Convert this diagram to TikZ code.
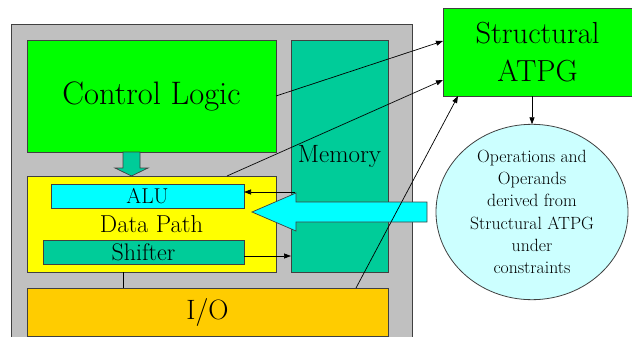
\documentclass[tikz,border=0pt]{standalone}
\usetikzlibrary{calc,arrows.meta,shapes.geometric}
\definecolor{chipgray}{HTML}{C0C0C0}
\definecolor{brightgreen}{HTML}{00FF00}
\definecolor{memteal}{HTML}{00CC99}
\definecolor{dpyellow}{HTML}{FFFF00}
\definecolor{alucyan}{HTML}{00FFFF}
\definecolor{iogold}{HTML}{FFCC00}
\definecolor{palecyan}{HTML}{CCFFFF}
\tikzset{
  block/.style={draw=black!75, line width=0.8pt, inner sep=0pt, outer sep=0pt},
  link/.style={draw=black, line width=0.7pt, -{Triangle[length=7pt,width=5pt]}},
  plainlink/.style={draw=black, line width=0.7pt},
}
\begin{document}
\begin{tikzpicture}[x=1pt,y=-1pt]
\useasboundingbox (0,0) rectangle (632,337);
% chip outline
\fill[chipgray] (11,24) rectangle (412,340);
\draw[black!75, line width=0.8pt] (11,340) -- (11,24) -- (412,24) -- (412,340);

% blocks on the chip
\node[block, fill=brightgreen, minimum width=249pt, minimum height=112pt,
      font=\fontsize{32.5}{36}\selectfont] (cl) at (151.5,96) {Control Logic};
\node[block, fill=memteal, minimum width=97pt, minimum height=232pt,
      font=\fontsize{25}{28}\selectfont] (mem) at (339.5,156) {Memory};
\node[block, fill=dpyellow, minimum width=249pt, minimum height=96pt,
      font=\fontsize{24.5}{28}\selectfont] (dp) at (151.5,224) {\raisebox{-1pt}{Data Path}};
\node[block, fill=alucyan, minimum width=193pt, minimum height=24pt,
      font=\fontsize{21.5}{24}\selectfont] (alu) at (147.5,196) {ALU};
\node[block, fill=memteal, minimum width=201pt, minimum height=24pt,
      font=\fontsize{24}{26}\selectfont] (sh) at (143.5,252) {Shifter};
\node[block, fill=iogold, minimum width=361pt, minimum height=48pt,
      font=\fontsize{28}{32}\selectfont] (io) at (207.5,312) {I/O};

% ATPG side
\node[block, fill=brightgreen, minimum width=189pt, minimum height=88pt, align=center,
      font=\fontsize{30.5}{38}\selectfont] (atpg) at (537.5,52) {Structural\\ATPG};
\node[block, ellipse, fill=palecyan, minimum width=192pt, minimum height=150pt,
      align=center, font=\fontsize{17.7}{22.3}\selectfont] (ops) at (532,212)
  {Operations and\\Operands\\derived from\\Structural ATPG\\under\\constraints};

% control logic feeds the data path
\coordinate (ct) at ($(cl.south)+(-20,0)$);
\filldraw[fill=memteal, draw=black!75, line width=0.7pt]
  ($(ct)+(-8.5,0)$) -- ($(ct)+(8.5,0)$) -- ($(ct)+(8.5,16)$) -- ($(ct)+(16.5,16)$)
  -- ($(dp.north)+(-20,0)$) -- ($(ct)+(-16.5,16)$) -- ($(ct)+(-8.5,16)$) -- cycle;

% operands pushed into the data path
\coordinate (tip) at ($(dp.east)+(-24,-12)$);
\filldraw[fill=alucyan, draw=black!75, line width=0.7pt]
  (tip) -- ($(tip)+(44,-19)$) -- ($(tip)+(44,-10)$) -- ($(ops.west)+(-9,-10)$)
  -- ($(ops.west)+(-9,10)$) -- ($(tip)+(44,10)$) -- ($(tip)+(44,19)$) -- cycle;

% memory <-> data path
\coordinate (aluin) at ($(alu.east)+(0,-4)$);
\draw[link] ($(mem.west |- aluin)+(4,0)$) -- (aluin);
\coordinate (shout) at ($(sh.east)+(0,4)$);
\draw[link] (shout) -- (mem.west |- shout);
\draw[plainlink] ($(dp.south)+(-28.5,0)$) -- ($(io.north)+(-84.5,0)$);

% links into the ATPG
\draw[link] (cl.east) -- ($(atpg.west)+(0,-11)$);
\draw[link] ($(dp.north)+(75.5,0)$) -- ($(atpg.west)+(0,28)$);
\draw[link] ($(io.north)+(148.5,0)$) -- ($(atpg.south west)+(15,0)$);
\draw[link] (atpg.south -| ops.north) -- (ops.north);
\end{tikzpicture}
\end{document}
